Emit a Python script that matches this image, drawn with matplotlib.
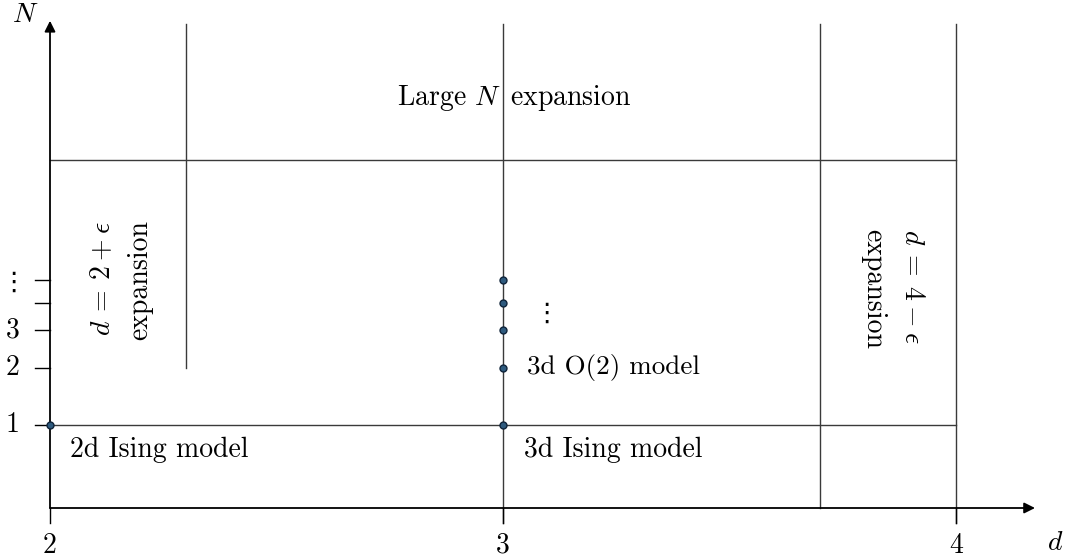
import matplotlib
matplotlib.use("Agg")
import matplotlib.pyplot as plt

plt.rcParams['mathtext.fontset'] = 'cm'
plt.rcParams['font.family'] = ['cmr10', 'DejaVu Serif']

# ---- data (schematic coordinates) ----
d_ticks = [2, 3, 4]
d_tick_labels = ['2', '3', '4']
n_tick_pos = [1.0, 1.69, 2.145, 2.473, 2.747]     # vertical positions of N levels
n_tick_labels = ['1', '2', '3', '', '']
pt_d = [2, 3, 3, 3, 3, 3]
pt_n = [1.0, 1.0, 1.69, 2.145, 2.473, 2.747]
region_vlines_d = [2.3, 3.0, 3.7, 4.0]
region_vlines_bottom = [1.69, -0.18, 0.0, -0.18]
region_top = 5.83
large_n_level = 4.193

fig = plt.figure(figsize=(10.68, 5.58), dpi=100)
ax = fig.add_axes([0, 0, 1, 1])
ax.set_xlim(2 - 50 / 453, 2 + 1018 / 453)
ax.set_ylim((508 - 558) / 83, 508 / 83)
ax.axis('off')

gcol = '#3a3a3a'
glw = 1.0
# region lines
ax.plot([2, 4], [1, 1], color=gcol, lw=glw, zorder=2)
ax.plot([2, 4], [large_n_level, large_n_level], color=gcol, lw=glw, zorder=2)
for x, yb in zip(region_vlines_d, region_vlines_bottom):
    ax.plot([x, x], [yb, region_top], color=gcol, lw=glw, zorder=2)

# axes with arrows
akw = dict(arrowstyle='-|>', lw=1.3, color='black', mutation_scale=16,
           shrinkA=0, shrinkB=0)
ax.annotate('', xy=(2 + 985 / 453, 0), xytext=(2, 0), arrowprops=akw, zorder=3)
ax.annotate('', xy=(2, 5.87), xytext=(2, 0), arrowprops=akw, zorder=3)

# ticks
for x, lab in zip(d_ticks, d_tick_labels):
    ax.plot([x, x], [-0.18, 0], color='black', lw=1.0, zorder=3)
    ax.text(x, -0.45, lab, ha='center', va='center', fontsize=20)
for y, lab in zip(n_tick_pos, n_tick_labels):
    ax.plot([2 - 15 / 453, 2], [y, y], color='black', lw=1.0, zorder=3)
    if lab:
        ax.text(1.917, y, lab, ha='center', va='center', fontsize=20)
vd = dict(ha='center', va='center', fontsize=19, family='DejaVu Sans')
ax.text(1.92, 2.71, '\u22ee', **vd)

ax.text(1.945, 5.94, r'$N$', ha='center', va='center', fontsize=20)
ax.text(4.219, -0.42, r'$d$', ha='center', va='center', fontsize=20)

# points
ax.plot(pt_d, pt_n, 'o', ms=5, mfc='#2e5a7e', mec='#10243a', mew=1.0,
        zorder=5, clip_on=False)

# labels
fs = 20
ax.text(3.024, 4.94, r'Large $N\,$ expansion', ha='center', va='center', fontsize=fs)
ax.text(3.053, 1.69, '3d O(2) model', ha='left', va='center', fontsize=19.5)
ax.text(3.095, 2.34, '\u22ee', **vd)
ax.text(2.044, 0.70, '2d Ising model', ha='left', va='center', fontsize=fs)
ax.text(3.046, 0.70, '3d Ising model', ha='left', va='center', fontsize=fs)

ax.text(2.117, 2.77, r'$d\:=\:2\:+\:\epsilon$', rotation=90, ha='center', va='center', fontsize=fs)
ax.text(2.199, 2.75, 'expansion', rotation=90, ha='center', va='center', fontsize=fs)
ax.text(3.903, 2.67, r'$d\:=\:4\:-\:\epsilon$', rotation=-90, ha='center', va='center', fontsize=fs)
ax.text(3.817, 2.64, 'expansion', rotation=-90, ha='center', va='center', fontsize=fs)

fig.savefig('out.png', dpi=100)
